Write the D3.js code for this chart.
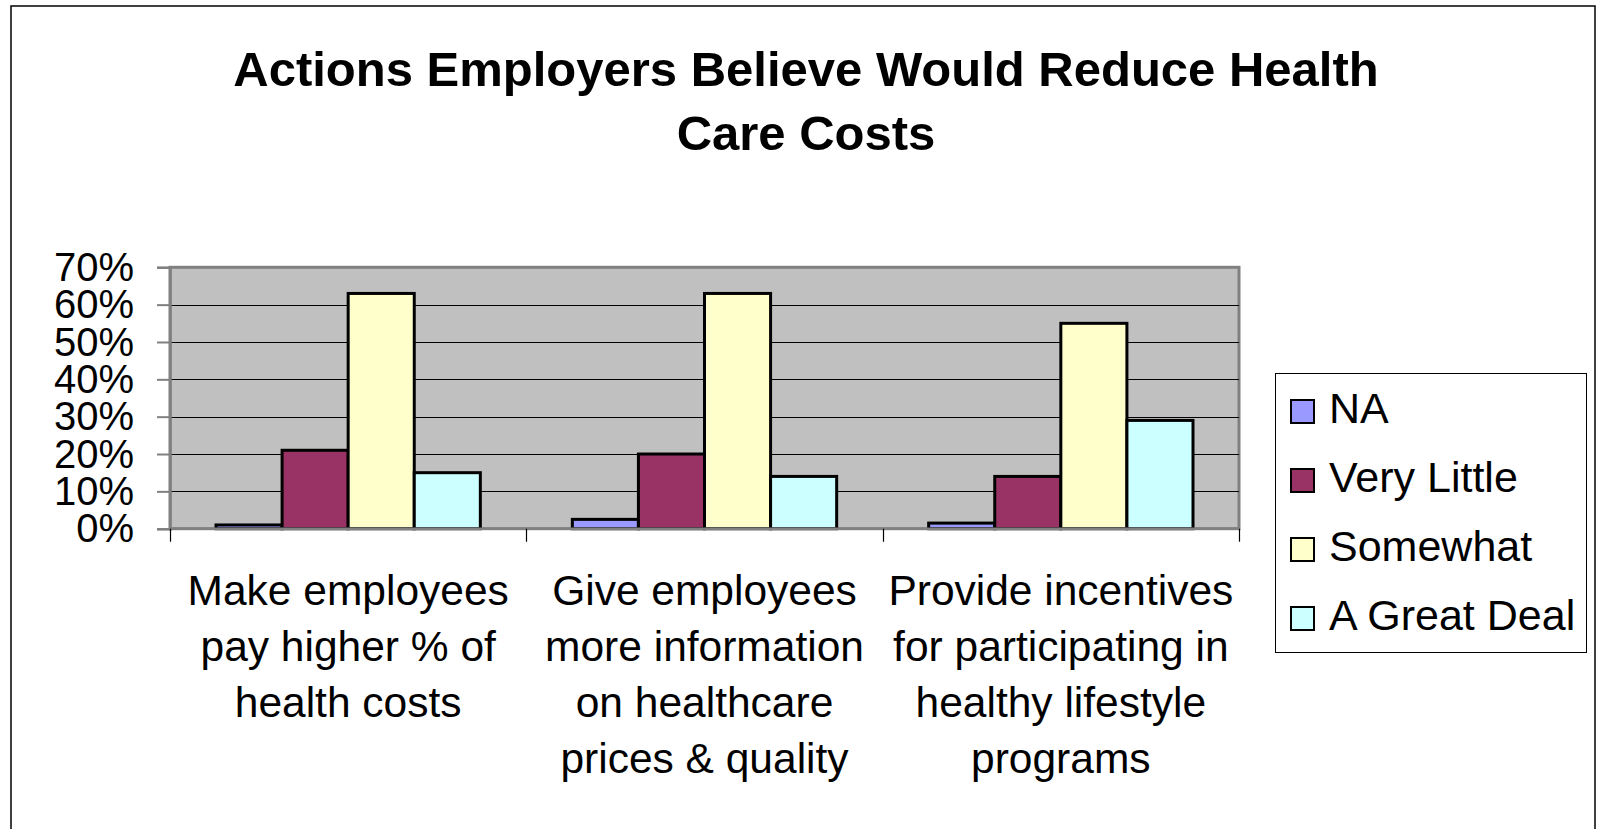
<!DOCTYPE html>
<html>
<head>
<meta charset="utf-8">
<script src="https://cdn.jsdelivr.net/npm/d3@7"></script>
<style>
  html, body { margin: 0; padding: 0; background: #fff; }
  svg { display: block; }
  text { font-family: "Liberation Sans", Arial, sans-serif; fill: #000; }
</style>
</head>
<body>
<svg id="chart" width="1597" height="829"></svg>
<script>
// Survey categories (wrapped lines of each axis label)
const categoryLines = [
  ["Make employees", "pay higher % of", "health costs"],
  ["Give employees", "more information", "on healthcare", "prices & quality"],
  ["Provide incentives", "for participating in", "healthy lifestyle", "programs"]
];
const categories = categoryLines.map(l => l.join(" "));

// Response series and their shares per category
const series = ["NA", "Very Little", "Somewhat", "A Great Deal"];
const naValues        = [0.01, 0.025, 0.015];
const veryLittleVals  = [0.21, 0.20, 0.14];
const somewhatValues  = [0.63, 0.63, 0.55];
const greatDealValues = [0.15, 0.14, 0.29];
const seriesValues = [naValues, veryLittleVals, somewhatValues, greatDealValues];
const seriesColors = ["#9999FF", "#993366", "#FFFFCC", "#CCFFFF"];

const yTicks = [0, 0.1, 0.2, 0.3, 0.4, 0.5, 0.6, 0.7];

const titleLines = ["Actions Employers Believe Would Reduce Health", "Care Costs"];

const svg = d3.select("#chart");

// outer chart frame
svg.append("rect")
  .attr("x", 11).attr("y", 6)
  .attr("width", 1584).attr("height", 840)
  .attr("fill", "#fff").attr("stroke", "#000").attr("stroke-width", 1.5);

// title
svg.append("g").selectAll("text")
  .data(titleLines)
  .join("text")
  .attr("x", 806)
  .attr("y", (d, i) => 86 + i * 64)
  .attr("text-anchor", "middle")
  .style("font-weight", "bold")
  .style("font-size", "49px")
  .text(d => d);

const plot = { left: 170, right: 1239, top: 267.3, bottom: 528.7 };

const y = d3.scaleLinear().domain([0, 0.7]).range([plot.bottom, plot.top]);
const x0 = d3.scaleBand().domain(categories).range([plot.left, plot.right]);
const groupPad = 46;
const x1 = d3.scaleBand().domain(series).range([groupPad, x0.bandwidth() - groupPad]);

// plot background
svg.append("rect")
  .attr("x", plot.left).attr("y", plot.top)
  .attr("width", plot.right - plot.left).attr("height", plot.bottom - plot.top)
  .attr("fill", "#C0C0C0")
  .attr("stroke", "#808080").attr("stroke-width", 3);

// horizontal gridlines
svg.append("g").selectAll("line")
  .data(yTicks.filter(t => t > 0 && t < 0.7))
  .join("line")
  .attr("x1", plot.left).attr("x2", plot.right)
  .attr("y1", d => Math.round(y(d)) + 0.5).attr("y2", d => Math.round(y(d)) + 0.5)
  .attr("stroke", "#000").attr("stroke-width", 1.2);

// y axis
const yAxis = svg.append("g")
  .attr("transform", `translate(${plot.left},0)`)
  .call(d3.axisLeft(y).tickValues(yTicks).tickFormat(d3.format(".0%")).tickSize(13).tickPadding(23));
yAxis.select(".domain").attr("stroke", "#808080").attr("stroke-width", 2.5);
yAxis.selectAll(".tick line").attr("stroke", "#808080").attr("stroke-width", 2);
yAxis.selectAll(".tick text")
  .style("font-size", "40px")
  .style("font-family", "'Liberation Sans', Arial, sans-serif")
  .attr("fill", "#000")
  .attr("dy", "0.33em");

// bars
const groups = svg.append("g").selectAll("g")
  .data(categories)
  .join("g")
  .attr("transform", d => `translate(${x0(d)},0)`);

groups.selectAll("rect")
  .data((c, ci) => series.map((s, si) => ({ s, v: seriesValues[si][ci], color: seriesColors[si] })))
  .join("rect")
  .attr("x", d => x1(d.s))
  .attr("width", x1.bandwidth())
  .attr("y", d => y(d.v))
  .attr("height", d => y(0) - y(d.v))
  .attr("fill", d => d.color)
  .attr("stroke", "#000")
  .attr("stroke-width", 3)
  .attr("stroke-linejoin", "miter");

// x axis line and category separators
svg.append("line")
  .attr("x1", plot.left).attr("x2", plot.right)
  .attr("y1", plot.bottom).attr("y2", plot.bottom)
  .attr("stroke", "#808080").attr("stroke-width", 2.5);

const boundaries = categories.map(c => x0(c)).concat([x0.range()[1]]);
svg.append("g").selectAll("line")
  .data(boundaries)
  .join("line")
  .attr("x1", d => Math.round(d) + 0.5).attr("x2", d => Math.round(d) + 0.5)
  .attr("y1", plot.bottom).attr("y2", plot.bottom + 13)
  .attr("stroke", "#000").attr("stroke-width", 1.2);

// category labels
const labelGroups = svg.append("g").selectAll("text")
  .data(categories)
  .join("text")
  .attr("text-anchor", "middle")
  .style("font-size", "42.5px");

labelGroups.selectAll("tspan")
  .data((c, i) => categoryLines[i].map(line => ({ line, cx: x0(c) + x0.bandwidth() / 2 })))
  .join("tspan")
  .attr("x", d => d.cx)
  .attr("y", (d, i) => 605 + i * 56)
  .text(d => d.line);

// legend
const legend = svg.append("g");
legend.append("rect")
  .attr("x", 1275.5).attr("y", 373.5)
  .attr("width", 311).attr("height", 279)
  .attr("fill", "#fff").attr("stroke", "#000").attr("stroke-width", 1);

const legendItems = legend.selectAll("g")
  .data(series)
  .join("g")
  .attr("transform", (d, i) => `translate(1291,${400 + i * 69})`);

legendItems.append("rect")
  .attr("width", 23).attr("height", 23)
  .attr("fill", (d, i) => seriesColors[i])
  .attr("stroke", "#000").attr("stroke-width", 2);

legendItems.append("text")
  .attr("x", 38).attr("y", 23)
  .style("font-size", "43px")
  .text(d => d);
</script>
</body>
</html>
